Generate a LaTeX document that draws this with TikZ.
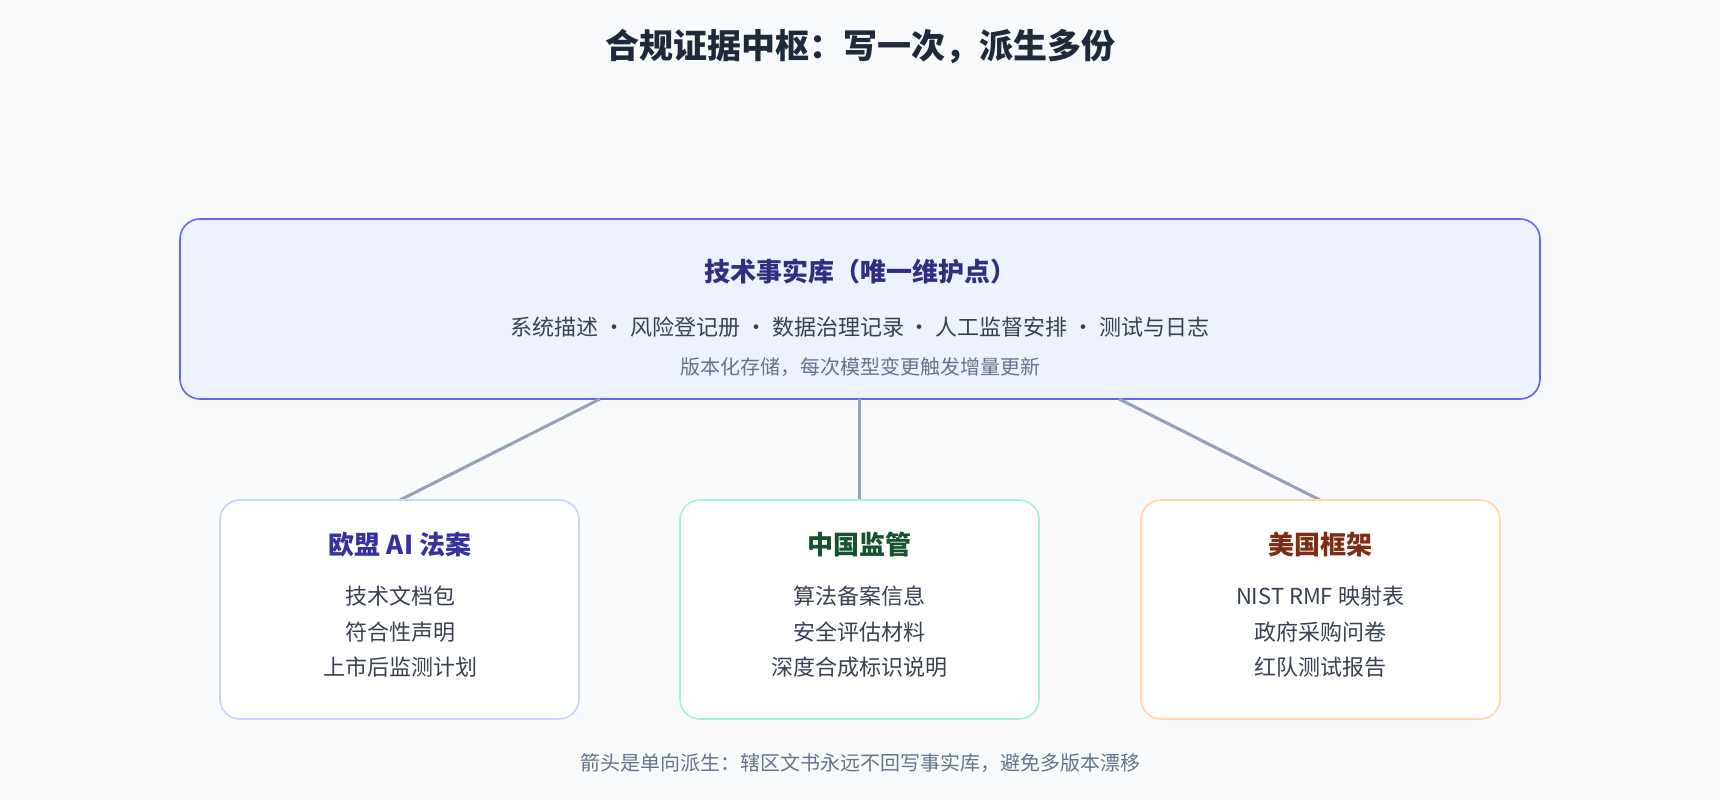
\documentclass[tikz,border=0pt]{standalone}
\usepackage{fontspec}
\setmainfont{Noto Sans CJK SC}
\newfontfamily\cjkb{Noto Sans CJK SC Bold}
\definecolor{bg}{HTML}{F8FAFC}
\definecolor{topfill}{HTML}{EEF2FF}
\definecolor{topline}{HTML}{6366F1}
\definecolor{toptitle}{HTML}{312E81}
\definecolor{body}{HTML}{374151}
\definecolor{sub}{HTML}{64748B}
\definecolor{conn}{HTML}{94A3B8}
\definecolor{euline}{HTML}{C7D2FE}
\definecolor{cnline}{HTML}{A7F3D0}
\definecolor{usline}{HTML}{FED7AA}
\definecolor{eut}{HTML}{3730A3}
\definecolor{cnt}{HTML}{14532D}
\definecolor{ust}{HTML}{7C2D12}
\definecolor{titlec}{HTML}{1E293B}
\begin{document}
\begin{tikzpicture}[x=1pt,y=-1pt,
  box/.style={draw, line width=1.6pt, rounded corners=20pt, fill=white},
  conn/.style={draw=conn, line width=3pt},
  bt/.style={font=\fontsize{26}{30}\selectfont\bfseries, anchor=center},
  bl/.style={font=\fontsize{22}{26}\selectfont, text=body, anchor=center},
]
\fill[bg] (0,0) rectangle (1720,800);
\useasboundingbox (0,0) rectangle (1720,800);
\node[font=\fontsize{34}{40}\selectfont\bfseries, text=titlec] (title) at (860,46) {合规证据中枢：写一次，派生多份};
\draw[box, draw=topline, fill=topfill] (180,219) rectangle (1540,399);
\node[bt, text=toptitle] (tt) at (860,272) {技术事实库（唯一维护点）};
\node[bl] (tl) at (860,327) {系统描述 · 风险登记册 · 数据治理记录 · 人工监督安排 · 测试与日志};
\node[font=\fontsize{20}{24}\selectfont, text=sub] (ts) at (860,367) {版本化存储，每次模型变更触发增量更新};
\coordinate (c1) at (600,399); \coordinate (c2) at (859,399); \coordinate (c3) at (1119,399);
\coordinate (e1) at (400,500); \coordinate (e2) at (859,500); \coordinate (e3) at (1320,500);
\draw[conn] (c1) -- (e1);
\draw[conn] (c2) -- (e2);
\draw[conn] (c3) -- (e3);
\draw[box, draw=euline] (220,500) rectangle (579,719);
\draw[box, draw=cnline] (680,500) rectangle (1039,719);
\draw[box, draw=usline] (1141,500) rectangle (1500,719);
\node[bt, text=eut] (eu) at (400,545) {欧盟 AI 法案};
\node[bl] (eu1) at (400,596) {技术文档包};
\node[bl] (eu2) at (400,632) {符合性声明};
\node[bl] (eu3) at (400,667) {上市后监测计划};
\node[bt, text=cnt] (cn) at (859,545) {中国监管};
\node[bl] (cn1) at (859,596) {算法备案信息};
\node[bl] (cn2) at (859,632) {安全评估材料};
\node[bl] (cn3) at (859,667) {深度合成标识说明};
\node[bt, text=ust] (us) at (1320,545) {美国框架};
\node[bl] (us1) at (1320,596) {NIST RMF 映射表};
\node[bl] (us2) at (1320,632) {政府采购问卷};
\node[bl] (us3) at (1320,667) {红队测试报告};
\node[font=\fontsize{20}{24}\selectfont, text=sub] (foot) at (860,763) {箭头是单向派生：辖区文书永远不回写事实库，避免多版本漂移};
\end{tikzpicture}
\end{document}
